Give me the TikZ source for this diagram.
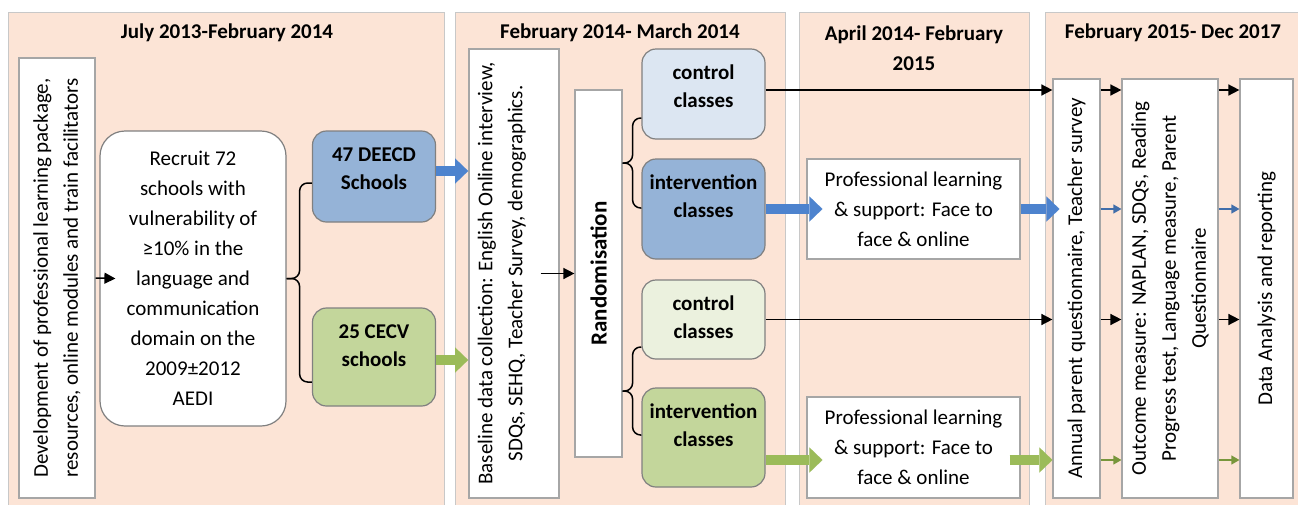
\documentclass[tikz,border=0pt]{standalone}
\usepackage{fontspec}
\setmainfont{Carlito}
\usepackage{graphicx}
\usetikzlibrary{arrows.meta}
\definecolor{peach}{RGB}{252,228,214}
\definecolor{panelline}{RGB}{200,200,200}
\definecolor{boxline}{RGB}{166,166,166}
\definecolor{darkline}{RGB}{128,128,128}
\definecolor{blueA}{RGB}{220,230,242}
\definecolor{blueB}{RGB}{149,179,215}
\definecolor{greenA}{RGB}{235,241,222}
\definecolor{greenB}{RGB}{195,214,155}
\definecolor{bluearr}{RGB}{77,131,206}
\definecolor{greenarr}{RGB}{155,187,89}
\definecolor{bluethin}{RGB}{65,110,170}
\definecolor{greenthin}{RGB}{120,150,60}
\newcommand{\vtext}[2]{\rotatebox{90}{\parbox{#1}{\centering #2}}}
\newcommand{\classtext}[2]{\parbox[c][#1][t]{118pt}{\centering\vspace*{11pt}\strut #2}}

\begin{document}
\begin{tikzpicture}[x=1pt, y=-1pt,
	every node/.style={font=\fontsize{21}{30}\selectfont},
	panel/.style={draw=panelline, fill=peach, line width=1.2pt, anchor=north west, inner sep=0pt},
	title/.style={font=\fontsize{21}{30}\selectfont\bfseries, align=center},
	whitebox/.style={draw=boxline, fill=white, line width=1.2pt, inner sep=0pt},
	roundbox/.style={draw=darkline, fill=white, line width=1.2pt, rounded corners=25pt, align=center},
	classbox/.style={draw=darkline, line width=1.2pt, rounded corners=14pt, inner sep=0pt, minimum width=123pt, font=\fontsize{21}{28}\selectfont\bfseries},
	arr/.style={-{Triangle[length=11pt,width=11pt]}, line width=1.5pt},
	bluethinarr/.style={-{Triangle[length=8pt,width=9pt]}, line width=1.2pt, draw=bluethin},
	greenthinarr/.style={-{Triangle[length=8pt,width=9pt]}, line width=1.2pt, draw=greenthin},
	fatblue/.style={line width=10pt, draw=bluearr, -{Triangle[length=13pt,width=25pt,line width=0.01pt]}},
	fatgreen/.style={line width=10pt, draw=greenarr, -{Triangle[length=13pt,width=25pt,line width=0.01pt]}},
	brace/.style={line width=1.5pt, rounded corners=8pt}]
	\useasboundingbox (0,0) rectangle (1298,504);
	\clip (0,0) rectangle (1298,504);

	\node[panel, minimum width=436pt, minimum height=510pt] (p1) at (8,12) {};
	\node[panel, minimum width=330pt, minimum height=510pt] (p2) at (455,12) {};
	\node[panel, minimum width=230pt, minimum height=510pt] (p3) at (799,12) {};
	\node[panel, minimum width=270pt, minimum height=510pt] (p4) at (1045,12) {};

	\node[title] (t1) at (227,33) {July 2013-February 2014};
	\node[title] (t2) at (620,33) {February 2014- March 2014};
	\node[title] (t3) at (914,48) {April 2014- February\\2015};
	\node[title] (t4) at (1173,33) {February 2015- Dec 2017};

	\node[whitebox, minimum width=76pt, minimum height=440pt] (dev) at (57,278) {\vtext{434pt}{Development of professional learning package,\\resources, online modules and train facilitators}};
	\node[roundbox, minimum width=186pt, minimum height=295pt] (recruit) at (193,278.5) {Recruit 72\\schools with\\vulnerability of\\≥10\% in the\\language and\\communication\\domain on the\\2009±2012\\AEDI};
	\node[classbox, fill=blueB, minimum height=91pt] (deecd) at (374,176.5) {\classtext{91pt}{47 DEECD\\Schools}};
	\node[classbox, fill=greenB, minimum height=98pt] (cecv) at (374,357) {\classtext{98pt}{25 CECV\\schools}};

	\node[whitebox, minimum width=90pt, minimum height=449pt] (base) at (514,273.5) {\vtext{445pt}{Baseline data collection: English Online interview,\\SDQs, SEHQ, Teacher Survey, demographics.\par\vspace*{24pt}}};
	\node[whitebox, minimum width=47pt, minimum height=367pt, font=\fontsize{23}{30}\selectfont\bfseries] (rand) at (598.5,273.5) {\rotatebox{90}{Randomisation}};
	\node[classbox, fill=blueA, minimum height=90pt] (ctrlA) at (703.5,94) {\classtext{90pt}{control\\classes}};
	\node[classbox, fill=blueB, minimum height=100pt] (intA) at (703.5,209) {\classtext{100pt}{intervention\\classes}};
	\node[classbox, fill=greenA, minimum height=79pt] (ctrlB) at (703.5,319.5) {\classtext{79pt}{control\\classes}};
	\node[classbox, fill=greenB, minimum height=99pt] (intB) at (703.5,437.5) {\classtext{99pt}{intervention\\classes}};

	\node[whitebox, minimum width=213pt, minimum height=100pt, align=center] (profA) at (913.5,209) {Professional learning\\\& support: Face to\\face \& online};
	\node[whitebox, minimum width=213pt, minimum height=101pt, align=center] (profB) at (913.5,447.5) {Professional learning\\\& support: Face to\\face \& online};

	\node[whitebox, minimum width=47pt, minimum height=419pt] (annual) at (1076.5,288.5) {\vtext{414pt}{Annual parent questionnaire, Teacher survey}};
	\node[whitebox, minimum width=96pt, minimum height=419pt] (outcome) at (1170,288.5) {\vtext{414pt}{Outcome measure: NAPLAN, SDQs, Reading\\Progress test, Language measure, Parent\\Questionnaire}};
	\node[whitebox, minimum width=53pt, minimum height=419pt] (data) at (1266.5,288.5) {\vtext{414pt}{Data Analysis and reporting}};

	\draw[arr] (dev.east) -- ([xshift=16pt]recruit.west);
	\draw[brace] (recruit.east) -- ++(13,0) |- ([yshift=-6.5pt]deecd.west);
	\draw[brace] (recruit.east) -- ++(13,0) |- ([yshift=-25pt]cecv.west);
	\draw[fatblue] ([yshift=5.5pt]deecd.east) -- ([xshift=32pt,yshift=5.5pt]deecd.east);
	\draw[fatgreen] ([yshift=-3pt]cecv.east) -- ([xshift=32pt,yshift=-3pt]cecv.east);

	\draw[arr] ([xshift=-19pt]base.east) -- (rand.west);
	\draw[brace] ([yshift=110.5pt]rand.east) -- ++(10,0) |- ([yshift=-24pt]ctrlA.west);
	\draw[brace] ([yshift=110.5pt]rand.east) -- ++(10,0) |- ([yshift=1pt]intA.west);
	\draw[brace] ([yshift=-117.5pt]rand.east) -- ++(10,0) |- ([yshift=-27.5pt]ctrlB.west);
	\draw[brace] ([yshift=-117.5pt]rand.east) -- ++(10,0) |- ([yshift=2.5pt]intB.west);

	\draw[arr] ([yshift=4pt]ctrlA.east) -- ([yshift=198.5pt]annual.west);
	\draw[arr] (ctrlB.east) -- ([yshift=-31pt]annual.west);
	\draw[fatblue] (intA.east) -- ([xshift=16pt]profA.west);
	\draw[fatblue] (profA.east) -- ([xshift=7pt,yshift=79.5pt]annual.west);
	\draw[fatgreen] ([yshift=-22.5pt]intB.east) -- ([xshift=16pt,yshift=-12.5pt]profB.west);
	\draw[fatgreen] ([xshift=-11pt,yshift=-12.5pt]profB.east) -- ([yshift=-171.5pt]annual.west);

	\foreach \dy/\sty in {198.5/arr, 79.5/bluethinarr, -31/arr, -171.5/greenthinarr} {
		\draw[\sty] ([yshift=\dy pt]annual.east) -- ([yshift=\dy pt]outcome.west);
		\draw[\sty] ([yshift=\dy pt]outcome.east) -- ([yshift=\dy pt]data.west);
	}
\end{tikzpicture}
\end{document}
